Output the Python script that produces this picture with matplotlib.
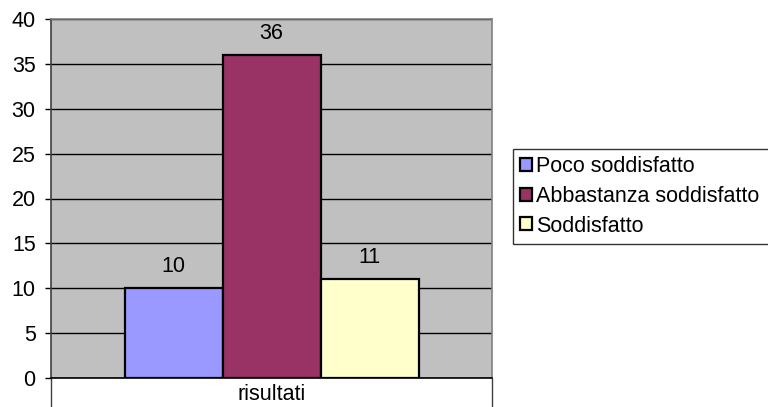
import matplotlib.pyplot as plt
import numpy as np

plt.rcParams['font.family'] = ['Liberation Sans', 'DejaVu Sans']

# data
series = ['Poco soddisfatto', 'Abbastanza soddisfatto', 'Soddisfatto']
values = [10, 36, 11]
category = 'risultati'
colors = ['#9999FF', '#993366', '#FFFFCC']

FS = 15.5

fig = plt.figure(figsize=(7.68, 4.07), dpi=100)
ax = fig.add_axes([51 / 768, 1 - 378 / 407, 441 / 768, 359 / 407])
ax.set_facecolor('#C0C0C0')

bar_w = 2 / 9
offsets = (np.arange(len(values)) - 1) * bar_w
for i, (name, v, c) in enumerate(zip(series, values, colors)):
    ax.bar(0.5 + offsets[i], v, width=bar_w, color=c, edgecolor='black',
           linewidth=1.6, label=name, zorder=3)
    ax.annotate(str(v), (0.5 + offsets[i], v), xytext=(0, 15.5), textcoords='offset points',
                ha='center', va='center', fontsize=FS)

ax.set_xlim(0, 1)
ax.set_ylim(0, 40)
ax.set_yticks(np.arange(0, 41, 5))
ax.yaxis.grid(True, color='black', linewidth=1, zorder=1)
ax.set_axisbelow(True)
ax.tick_params(axis='y', direction='out', length=4, width=1, labelsize=FS, pad=7)

# category axis: boundary ticks long, label in the middle
ax.set_xticks([0, 1])
ax.set_xticklabels(['', ''])
ax.tick_params(axis='x', which='major', direction='out', length=22, width=1, color='#404040')
ax.set_xticks([0.5], minor=True)
ax.set_xticklabels([category], minor=True)
ax.tick_params(axis='x', which='minor', length=0, labelsize=FS, pad=4)

ax.spines['left'].set_color('#404040')
ax.spines['bottom'].set_color('black')
ax.spines['top'].set_color('#808080')
ax.spines['right'].set_color('#808080')
for s in ax.spines.values():
    s.set_linewidth(1.2)

# legend runs off the right edge like the original
leg = fig.legend(loc='upper left', bbox_to_anchor=(513 / 768, 1 - 149 / 407, 262 / 768, 0),
                 mode='expand',
                 fontsize=FS, frameon=True, fancybox=False, edgecolor='black',
                 handlelength=0.55, handleheight=0.55, handletextpad=0.2,
                 labelspacing=0.4, borderpad=0.34, borderaxespad=0)
leg.get_frame().set_linewidth(1)

fig.savefig('out.png', dpi=100)
